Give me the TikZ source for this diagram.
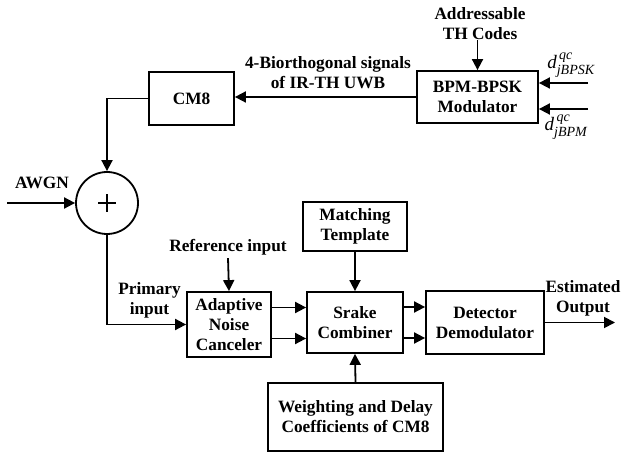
\documentclass[tikz,border=0pt]{standalone}
\usepackage{amsmath}
\usepackage{fontspec}
\setmainfont{Liberation Serif}
\usetikzlibrary{arrows.meta}

% italic script used beside the data symbols
\newcommand{\scr}[1]{\text{\fontsize{14}{14}\selectfont\itshape #1}}

\begin{document}
\begin{tikzpicture}[x=1pt,y=-1pt,
  every node/.style={font=\fontsize{17.3}{20}\selectfont\bfseries, align=center, inner sep=0pt},
  blk/.style={draw, line width=1.8pt, minimum width=#1},
  link/.style={line width=1.8pt, -{Triangle[length=11pt,width=11pt]}},
  wire/.style={line width=1.8pt},
  dlabel/.style={font=\fontsize{19}{20}\selectfont}
]
\useasboundingbox (0,0) rectangle (621,454);

% blocks
\node[blk=121pt, minimum height=52pt] (bpm)    at (477.5,97)  {BPM-BPSK\\Modulator};
\node[blk=85pt,  minimum height=53pt] (cm8)    at (191.5,98.5) {CM8};
\node[draw, circle, line width=1.8pt, minimum size=62pt] (sum) at (107,203) {};
\node[blk=84pt,  minimum height=65pt] (anc)    at (229,324.5) {Adaptive\\Noise\\Canceler};
\node[blk=104pt, minimum height=49pt] (match)  at (355,226.5) {Matching\\Template};
\node[blk=96pt,  minimum height=61pt] (srake)  at (355,322.5) {Srake\\Combiner};
\node[blk=118pt, minimum height=63pt] (det)    at (485,322.5) {Detector\\Demodulator};
\node[blk=175pt, minimum height=68pt] (weight) at (355.5,417) {Weighting and Delay\\Coefficients of CM8};

% plus sign in the summer
\draw[wire] ([xshift=-9pt]sum.center) -- ([xshift=9pt]sum.center);
\draw[wire] ([yshift=-9pt]sum.center) -- ([yshift=9pt]sum.center);

% labels
\node (addr) at (480,23.5) {Addressable\\TH Codes};
\node (sig)  at (328,73) {4-Biorthogonal signals\\of IR-TH UWB};
\node (awgn) at (42,183) {AWGN};
\node (prim) at (149.5,300.5) {Primary\\input};
\node (ref)  at (228,247) {Reference input};
\node (est)  at (583,298) {Estimated\\Output};
\node[dlabel] (dbpsk) at (571,65)  {$\textit{d}^{\,\scr{qc}}_{\scr{jBPSK}}$};
\node[dlabel] (dbpm)  at (566,127) {$\textit{d}^{\,\scr{qc}}_{\scr{jBPM}}$};

% free ends
\coordinate (inA) at (588,83);
\coordinate (inB) at (588,109);
\coordinate (noise) at (7,203);
\coordinate (out) at (615,322.5);

% connectors
\draw[link] (addr.south) ++(-2.5,0) coordinate (addrtip) -- (addrtip |- bpm.north);
\draw[link] (inA) -- (inA -| bpm.east);
\draw[link] (inB) -- (inB -| bpm.east);
\draw[link] (bpm.west |- 0,97) -- (cm8.east |- 0,97);
\draw[link] (cm8.west) -| (sum.north);
\draw[link] (noise) -- (sum.west);
\draw[link] (sum.south) |- (anc.west);
\draw[link] (ref.south) ++(0,3) -- (anc.north);
\draw[link] (anc.east |- 0,307.5) -- (srake.west |- 0,307.5);
\draw[link] (anc.east |- 0,338.5) -- (srake.west |- 0,338.5);
\draw[link] (srake.east |- 0,307) -- (det.west |- 0,307);
\draw[link] (srake.east |- 0,338) -- (det.west |- 0,338);
\draw[link] (match.south) -- (srake.north);
\draw[link] (weight.north) -- (srake.south);
\draw[link] (det.east |- out) -- (out);
\end{tikzpicture}
\end{document}
